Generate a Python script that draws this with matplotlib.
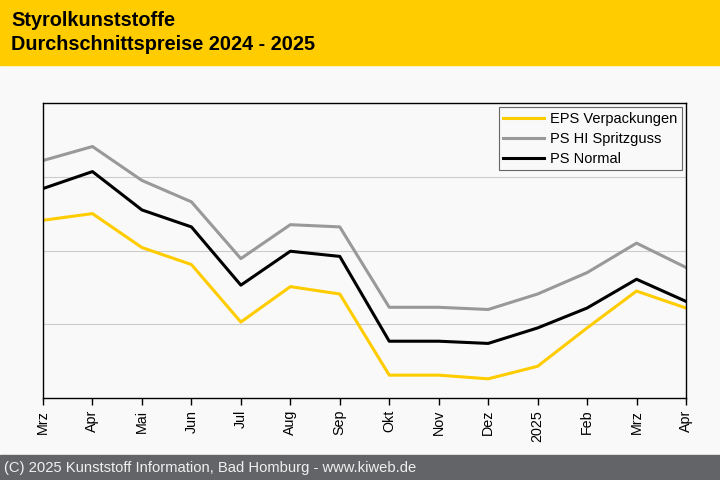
import numpy as np
import matplotlib.pyplot as plt

plt.rcParams['font.family'] = ['Liberation Sans', 'DejaVu Sans']

months = ['Mrz', 'Apr', 'Mai', 'Jun', 'Jul', 'Aug', 'Sep', 'Okt', 'Nov', 'Dez',
          '2025', 'Feb', 'Mrz', 'Apr']

# relative price level (no y labels in the original)
ps_hi = [3.22, 3.41, 2.95, 2.66, 1.89, 2.35, 2.32, 1.23, 1.23, 1.20, 1.41, 1.70, 2.10, 1.77]
ps_normal = [2.84, 3.07, 2.55, 2.32, 1.53, 1.99, 1.92, 0.77, 0.77, 0.74, 0.95, 1.22, 1.61, 1.31]
eps = [2.41, 2.50, 2.04, 1.81, 1.03, 1.51, 1.41, 0.31, 0.31, 0.26, 0.43, 0.95, 1.45, 1.22]

bg = '#f9f9f9'
fig = plt.figure(figsize=(7.2, 4.8), dpi=100, facecolor=bg)

# header and footer bands
fig.patches.append(plt.Rectangle((0, 1 - 65 / 480), 1, 65 / 480, transform=fig.transFigure,
                                 color='#ffcc00', zorder=0))
fig.patches.append(plt.Rectangle((0, 0), 1, 25 / 480, transform=fig.transFigure,
                                 color='#636468', zorder=0))
fig.text(11 / 720, 1 - 20 / 480, 'Styrolkunststoffe', fontsize=14.3, fontweight='bold',
         va='center', ha='left')
fig.text(11 / 720, 1 - 44 / 480, 'Durchschnittspreise 2024 - 2025', fontsize=14.3,
         fontweight='bold', va='center', ha='left')
fig.text(4 / 720, 12 / 480, '(C) 2025 Kunststoff Information, Bad Homburg - www.kiweb.de',
         fontsize=10.6, color='#f0f0f0', va='center', ha='left')

ax = fig.add_axes([43 / 720, 82 / 480, 643 / 720, 295 / 480])
ax.set_facecolor(bg)
x = np.arange(len(months))

ax.plot(x, eps, color='#ffcc00', lw=2.2, label='EPS Verpackungen')
ax.plot(x, ps_hi, color='#999999', lw=2.2, label='PS HI Spritzguss')
ax.plot(x, ps_normal, color='black', lw=2.2, label='PS Normal')

ax.set_xlim(0, len(months) - 1)
ax.set_ylim(0, 4)
ax.set_yticks([1, 2, 3])
ax.yaxis.grid(True, color='#cccccc', lw=0.8)
ax.set_axisbelow(True)
ax.tick_params(axis='y', left=False, labelleft=False)
ax.set_xticks(x)
ax.set_xticklabels(months, rotation=90, fontsize=10.3)
ax.tick_params(axis='x', length=5, width=1, color='black')
for s in ax.spines.values():
    s.set_color('black')
    s.set_linewidth(1)

leg = ax.legend(loc='upper right', fontsize=10.5, frameon=True, fancybox=False,
                borderaxespad=0.3, handlelength=2.8, handletextpad=0.4,
                labelspacing=0.42, borderpad=0.3)
leg.get_frame().set_edgecolor('#666666')
leg.get_frame().set_facecolor(bg)
leg.get_frame().set_alpha(1)
leg.get_frame().set_linewidth(0.8)

fig.savefig('out.png', dpi=100, facecolor=bg)
